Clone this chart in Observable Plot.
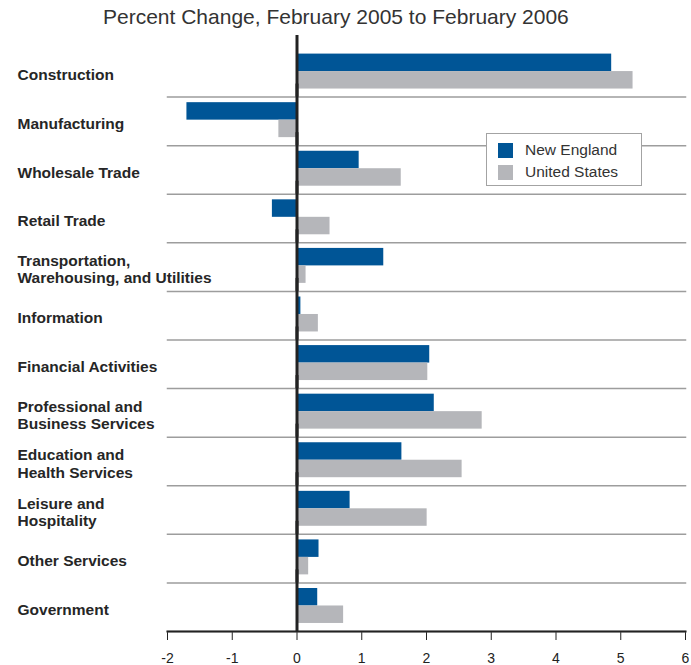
<!DOCTYPE html>
<html><head><meta charset="utf-8">
<script src="https://cdn.jsdelivr.net/npm/d3@7"></script>
<script src="https://cdn.jsdelivr.net/npm/@observablehq/plot@0.6"></script>
<style>
body{margin:0;background:#fff;font-family:"Liberation Sans",Arial,sans-serif;}
#wrap{position:relative;width:691px;height:665px;overflow:hidden;}
#title{height:30px;line-height:34px;padding-left:103px;font-size:21px;color:#333;white-space:nowrap;}
#legend{position:absolute;left:486px;top:133px;width:154px;height:51px;border:1.5px solid #a3a3a3;background:#fff;}
.item{position:absolute;left:11px;height:16px;display:flex;align-items:center;font-size:15.5px;color:#333;white-space:nowrap;}
.sw{width:15px;height:15px;margin-right:12px;flex:none;}
#chart svg{overflow:visible;display:block;}
</style></head><body>
<div id="wrap"><div id="title">Percent Change, February 2005 to February 2006</div><div id="chart"></div><div id="legend"></div></div>
<script>
const categories = ["Construction","Manufacturing","Wholesale Trade","Retail Trade","Transportation,\nWarehousing, and Utilities","Information","Financial Activities","Professional and\nBusiness Services","Education and\nHealth Services","Leisure and\nHospitality","Other Services","Government"];
const series = ["New England","United States"];
const newEngland = [4.86,-1.70,0.96,-0.38,1.34,0.06,2.05,2.12,1.62,0.82,0.34,0.32];
const unitedStates = [5.19,-0.28,1.61,0.51,0.14,0.33,2.02,2.86,2.55,2.01,0.18,0.72];
const xTicks = [-2,-1,0,1,2,3,4,5,6];
const colors = ["#005596","#b5b6ba"];

const rows = categories.flatMap((c, i) => [
  {category: c, series: series[0], value: newEngland[i]},
  {category: c, series: series[1], value: unitedStates[i]}
]);

const chart = Plot.plot({
  width: 691, height: 635,
  marginTop: 18, marginBottom: 34, marginLeft: 167, marginRight: 6,
  x: {domain: [-2, 6], ticks: xTicks, tickFormat: d => String(d), tickSize: 9, tickPadding: 13, label: null},
  fy: {domain: categories, padding: 0, round: false, axis: null},
  y: {domain: series, paddingInner: 0, paddingOuter: 0.39, align: 0.41, round: false, axis: null},
  color: {domain: series, range: colors},
  style: {fontFamily: "Liberation Sans, Arial, sans-serif", fontSize: "14px", color: "#222", background: "white"},
  marks: [
    Plot.frame({anchor: "bottom", stroke: "#9d9d9d", strokeWidth: 1.5}),
    Plot.barX(rows, {fy: "category", y: "series", x: "value", fill: "series"}),
    Plot.ruleX([0], {stroke: "#222", strokeWidth: 3, insetTop: -13}),
    Plot.frame({anchor: "bottom", facetAnchor: "bottom", stroke: "#222", strokeWidth: 2}),
    Plot.text(categories, {fy: d => d, text: d => d, frameAnchor: "left", textAnchor: "start", dx: -150, dy: 2, fontSize: 15.5, fontWeight: "bold", lineHeight: 1.12, fill: "#262626"})
  ]
});
document.getElementById("chart").appendChild(chart);

const legend = document.getElementById("legend");
series.forEach((s, i) => {
  const item = document.createElement("div");
  item.className = "item";
  item.style.top = (8 + i * 22) + "px";
  const sw = document.createElement("div");
  sw.className = "sw";
  sw.style.background = colors[i];
  item.appendChild(sw);
  item.appendChild(document.createTextNode(s));
  legend.appendChild(item);
});
</script>
</body></html>
